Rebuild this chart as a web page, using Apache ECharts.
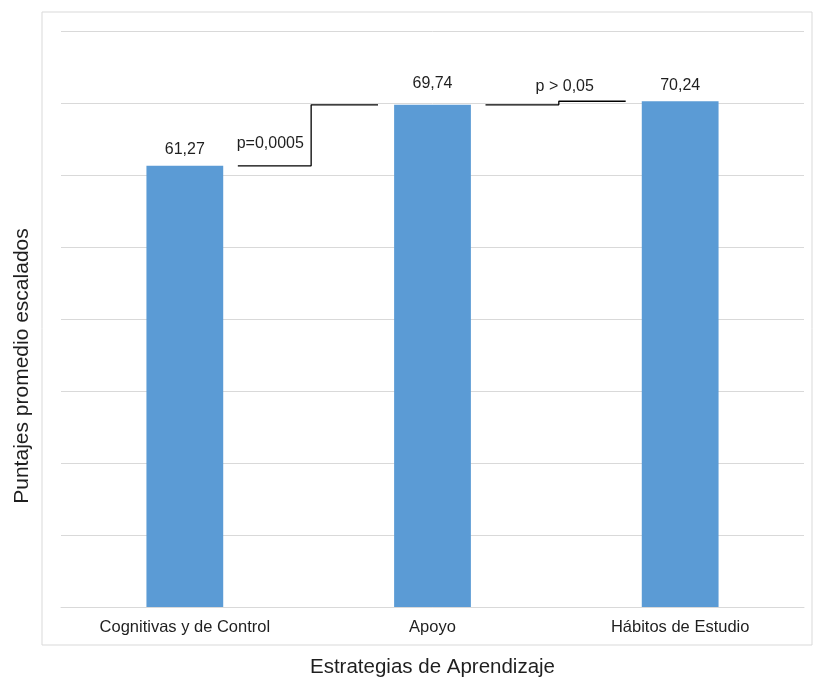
<!DOCTYPE html>
<html><head><meta charset="utf-8">
<script src="https://cdn.jsdelivr.net/npm/echarts@6/dist/echarts.min.js"></script>
<style>html,body{margin:0;padding:0;background:#fff}#c{width:813px;height:683px}</style>
</head><body><div id="c"></div>
<script>
// ---- data ----
const categories = ['Cognitivas y de Control', 'Apoyo', 'Hábitos de Estudio'];
const values = [61.27, 69.74, 70.24];
const yTicks = [0, 10, 20, 30, 40, 50, 60, 70, 80];
const compFrom = [0, 1];
const compTo = [1, 2];
const compLabels = ['p=0,0005', 'p > 0,05'];

// ---- layout constants (category-unit offsets, label distances) ----
const segStart = 0.214, segCorner = 0.51, segEnd = 0.22;
const labelOffset = [0.345, 0.534];
const labelDist = [14, 10];
const barLabelDist = [8, 13, 8];

const fmt = v => v.toFixed(2).replace('.', ',');
const FONT = 'Liberation Sans, Arial, sans-serif';
const TXT = '#1f1f1f';

const series = [{
  type: 'bar',
  data: values.map((v, i) => ({ value: v, label: { distance: barLabelDist[i] } })),
  barWidth: '31%',
  itemStyle: { color: '#5b9bd5' },
  label: {
    show: true, position: 'top',
    formatter: p => fmt(p.value),
    fontFamily: FONT, fontSize: 16, color: TXT
  }
}];

compFrom.forEach((f, i) => {
  const t = compTo[i];
  const vf = values[f], vt = values[t];
  series.push({
    type: 'line', xAxisIndex: 1, yAxisIndex: 0,
    symbol: 'none', silent: true,
    lineStyle: { color: '#000', width: 1.3 },
    data: [[f + segStart, vf], [f + segCorner, vf], [f + segCorner, vt], [t - segEnd, vt]]
  });
  series.push({
    type: 'scatter', xAxisIndex: 1, yAxisIndex: 0,
    symbolSize: 0, silent: true,
    itemStyle: { opacity: 1 },
    data: [[f + labelOffset[i], vf]],
    label: {
      show: true, position: 'top', distance: labelDist[i],
      formatter: () => compLabels[i],
      fontFamily: FONT, fontSize: 16, color: TXT, opacity: 1
    }
  });
});

const chart = echarts.init(document.getElementById('c'), null, { renderer: 'canvas' });
chart.setOption({
  animation: false,
  backgroundColor: '#fff',
  grid: { left: 61, right: 9, top: 31, bottom: 76, containLabel: false, outerBoundsMode: 'none' },
  graphic: [
    { type: 'rect', shape: { x: 42, y: 12, width: 770, height: 633 },
      style: { fill: 'none', stroke: '#d9d9d9', lineWidth: 1 }, silent: true },
    { type: 'text', x: 22, y: 366, rotation: Math.PI / 2,
      style: { text: 'Puntajes promedio escalados', align: 'center', verticalAlign: 'middle',
               font: '21px ' + FONT, fill: TXT } }
  ],
  xAxis: [{
    type: 'category', data: categories,
    axisLine: { lineStyle: { color: '#d9d9d9' } },
    axisTick: { show: false },
    axisLabel: { fontFamily: FONT, fontSize: 16.5, color: TXT, margin: 12 },
    name: 'Estrategias de Aprendizaje', nameLocation: 'middle', nameGap: 50,
    nameTextStyle: { fontFamily: FONT, fontSize: 20.5, color: TXT }
  }, {
    type: 'value', min: -0.5, max: 2.5, show: false
  }],
  yAxis: {
    type: 'value', min: yTicks[0], max: yTicks[yTicks.length - 1], interval: yTicks[1] - yTicks[0],
    axisLabel: { show: false }, axisTick: { show: false }, axisLine: { show: false },
    splitLine: { lineStyle: { color: '#d9d9d9' } }
  },
  series
});
</script>
</body></html>
